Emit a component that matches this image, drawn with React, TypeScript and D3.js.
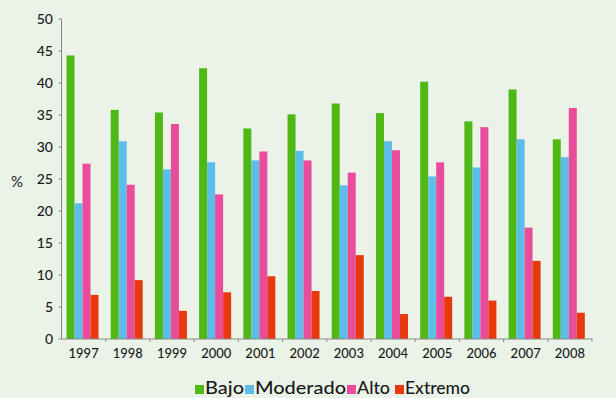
import React from "react";
import * as d3 from "d3";

const years = ["1997","1998","1999","2000","2001","2002","2003","2004","2005","2006","2007","2008"];
const seriesNames = ["Bajo","Moderado","Alto","Extremo"];
const bajo = [44.3,35.8,35.4,42.3,32.9,35.1,36.8,35.3,40.2,34.0,39.0,31.2];
const moderado = [21.2,30.9,26.5,27.6,27.9,29.4,24.0,30.9,25.4,26.8,31.2,28.4];
const alto = [27.4,24.1,33.6,22.6,29.3,27.9,26.0,29.5,27.6,33.1,17.4,36.1];
const extremo = [6.9,9.2,4.4,7.3,9.8,7.5,13.1,3.9,6.6,6.0,12.2,4.1];
const yTicks = [0,5,10,15,20,25,30,35,40,45,50];
const colors = ["#4fb814","#5bbde8","#ea4c9c","#e8380d"];

const W = 616, H = 398;
const left = 61.5, right = 592, top = 19, bottom = 339;

export default function App() {
  const data = [bajo, moderado, alto, extremo];
  const x = d3.scaleBand<string>().domain(years).range([left, right]).paddingInner(0).paddingOuter(0);
  const y = d3.scaleLinear().domain([0, 50]).range([bottom, top]);
  const inner = d3.scaleBand<string>().domain(seriesNames).range([5, 37]).padding(0);
  const font = "Lato, 'Open Sans', sans-serif";
  const legendItems = [
    { name: "Bajo", x: 195, w: 39 },
    { name: "Moderado", x: 245, w: 91 },
    { name: "Alto", x: 347, w: 33 },
    { name: "Extremo", x: 395, w: 65 },
  ];
  return (
    <svg width={W} height={H} style={{ position: "absolute", left: 0, top: 0 }} fontFamily={font}>
      <rect x={0} y={0} width={W} height={H} fill="#ebf3e8" />
      {data.map((vals, si) =>
        vals.map((v, i) => (
          <rect
            key={`${si}-${i}`}
            x={(x(years[i]) as number) + (inner(seriesNames[si]) as number)}
            y={y(v)}
            width={inner.bandwidth()}
            height={y(0) - y(v)}
            fill={colors[si]}
          />
        ))
      )}
      {/* y axis */}
      <line x1={left} x2={left} y1={top} y2={bottom} stroke="#888" strokeWidth={1} />
      {yTicks.map((t) => (
        <g key={t}>
          <line x1={left - 3} x2={left} y1={y(t)} y2={y(t)} stroke="#888" />
          <text x={53} y={y(t)} dy="0.35em" textAnchor="end" fontSize={14} fontWeight={500} fill="#1a1a1a">{t}</text>
        </g>
      ))}
      {/* x axis */}
      <line x1={left} x2={right} y1={bottom} y2={bottom} stroke="#888" />
      {years.map((yr, i) => (
        <g key={yr}>
          <line x1={(x(yr) as number) + x.bandwidth()} x2={(x(yr) as number) + x.bandwidth()} y1={bottom} y2={bottom + 3} stroke="#888" />
          <text x={(x(yr) as number) + x.bandwidth() / 2} y={353} dy="0.35em" textAnchor="middle" fontSize={13} fontWeight={500} fill="#1a1a1a">{yr}</text>
        </g>
      ))}
      <text x={17} y={182} dy="0.35em" textAnchor="middle" fontSize={15} fill="#1a1a1a">%</text>
      {/* legend */}
      {legendItems.map((it, i) => (
        <g key={it.name}>
          <rect x={it.x} y={385} width={9} height={9} fill={colors[i]} />
          <text x={it.x + 10} y={394} fontSize={17} fontWeight={500} fill="#1a1a1a" textLength={it.w} lengthAdjust="spacingAndGlyphs">{it.name}</text>
        </g>
      ))}
    </svg>
  );
}
